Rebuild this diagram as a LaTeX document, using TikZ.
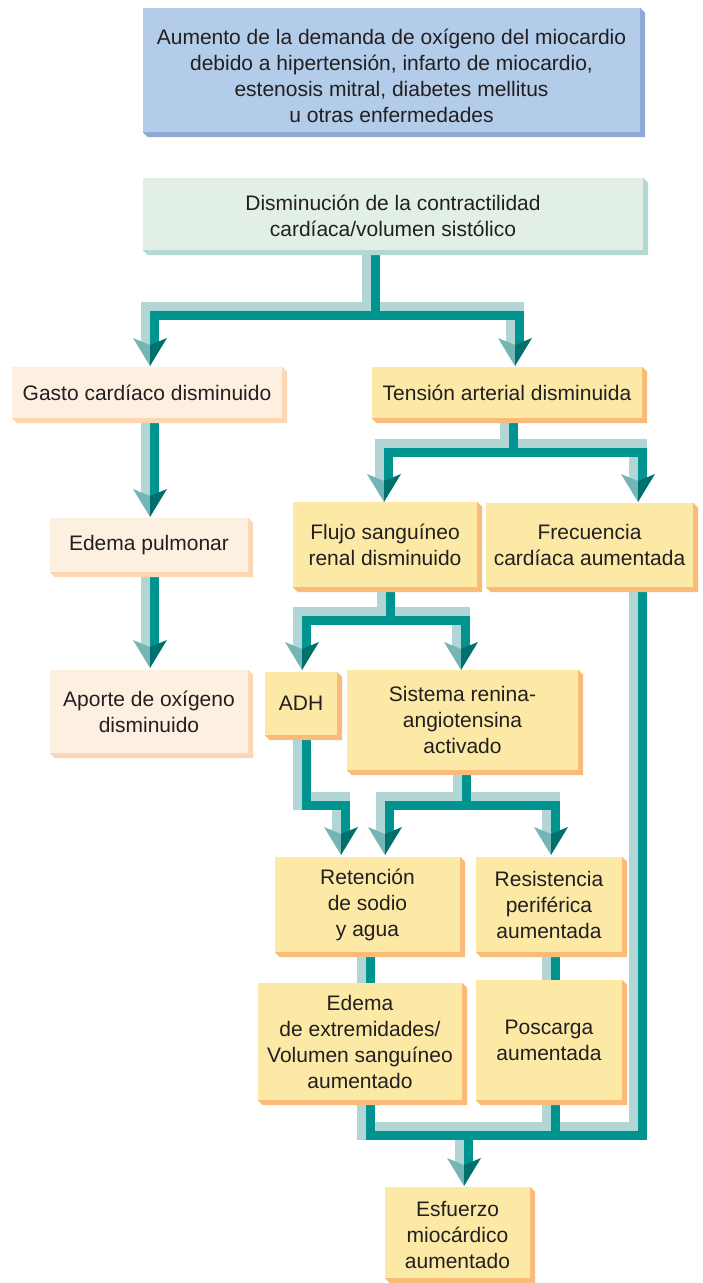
\documentclass[tikz,border=0pt]{standalone}
\usepackage{fontspec}
\setmainfont{Liberation Sans}
\usetikzlibrary{calc}
\definecolor{blueF}{HTML}{B3CCE9}
\definecolor{blueS}{HTML}{8FA9D4}
\definecolor{greenF}{HTML}{E2EFE4}
\definecolor{greenS}{HTML}{B6D8D5}
\definecolor{peachF}{HTML}{FDF0E0}
\definecolor{peachS}{HTML}{FDD6B4}
\definecolor{yellF}{HTML}{FCE9A6}
\definecolor{yellS}{HTML}{FBBB78}
\definecolor{pipeL}{HTML}{B2D6D6}
\definecolor{pipeD}{HTML}{009490}
\definecolor{arrL}{HTML}{74B6B5}
\definecolor{arrR}{HTML}{00706C}
\definecolor{txt}{HTML}{231F20}
\pgfdeclarelayer{bottom}
\pgfdeclarelayer{background}
\pgfsetlayers{bottom,background,main}
\newcommand\shd[2]{\fill[#2] (#1.north east) -- ([shift={(5,5)}]#1.north east) -- ([shift={(5,5)}]#1.south east) -- ([shift={(5,5)}]#1.south west) -- (#1.south west) -- (#1.south east) -- cycle;}
\newcommand\tipat[3]{\coordinate (#1) at (#2,#3); \coordinate (#1s) at (#2,#3-20);}
\newcommand\ahd[1]{\fill[arrL] (#1) -- ++(-17,-28) -- ++(17,7) -- cycle; \fill[arrR] (#1) -- ++(17,-28) -- ++(-17,7) -- cycle;}
\newcommand\allpipes[1]{%
 \draw[#1] (j1 |- green.center) -- (j1);
 \draw[#1] (tGastos) |- (j1) -| (tTenss);
 \draw[#1] (tGasto |- gasto.center) -- (tEdPs);
 \draw[#1] (tApo |- edemaP.center) -- (tApos);
 \draw[#1] (j2 |- tension.center) -- (j2);
 \draw[#1] (tFlujos) |- (j2) -| (tFrecs);
 \draw[#1] (j3 |- flujo.center) -- (j3);
 \draw[#1] (tADHs) |- (j3) -| (tSiss);
 \draw[#1] (tADH |- adh.center) |- (j6) -| (tRetAs);
 \draw[#1] (j4 |- sistema.center) -- (j4);
 \draw[#1] (tRetBs) |- (j4) -| (tRess);
 \draw[#1] (c1 |- retencion.center) -- (c1 |- edemaE.center);
 \draw[#1] (tRes |- resistencia.center) -- (tRes |- poscarga.center);
 \draw[#1] (c1 |- edemaE.center) |- (j5) -| (tFrec |- frecuencia.center);
 \draw[#1] (tRes |- poscarga.center) -- (tRes |- j5);
 \draw[#1] (j5) -- (tEsfs);
}
\begin{document}
\begin{tikzpicture}[x=1pt,y=-1pt,
  box/.style={rectangle, inner sep=0pt, align=center, text=txt, font=\fontsize{21}{26}\selectfont},
  pl/.style={line width=18pt, draw=pipeL, line join=miter, line cap=butt},
  pd/.style={line width=9pt, draw=pipeD, line join=miter, line cap=butt, transform canvas={shift={(4.5pt,-4.5pt)}}}]
\useasboundingbox (0,0) rectangle (702,1283);
\begin{pgfonlayer}{bottom}
\fill[white] (0,0) rectangle (702,1283);
\end{pgfonlayer}

% boxes
\node[box, fill=blueF, minimum width=497pt, minimum height=124pt] (top) at (391.5,70) {\rule{0pt}{28pt}Aumento de la demanda de oxígeno del miocardio\\debido a hipertensión, infarto de miocardio,\\estenosis mitral, diabetes mellitus\\u otras enfermedades};
\node[box, fill=greenF, minimum width=500pt, minimum height=72pt] (green) at (393,214) {\rule{0pt}{20pt}Disminución de la contractilidad\\cardíaca/volumen sistólico};
\node[box, fill=peachF, minimum width=270pt, minimum height=51pt] (gasto) at (147,392.5) {Gasto cardíaco disminuido};
\node[box, fill=yellF, minimum width=270pt, minimum height=51pt] (tension) at (507,392.5) {Tensión arterial disminuida};
\node[box, fill=peachF, minimum width=198pt, minimum height=54pt] (edemaP) at (149,545) {Edema pulmonar};
\node[box, fill=peachF, minimum width=198pt, minimum height=83pt] (aporte) at (149,711.5) {Aporte de oxígeno\\disminuido};
\node[box, fill=yellF, minimum width=184pt, minimum height=85pt] (flujo) at (385,544.5) {Flujo sanguíneo\\renal disminuido};
\node[box, fill=yellF, minimum width=207pt, minimum height=84pt] (frecuencia) at (589.5,545) {Frecuencia\\cardíaca aumentada};
\node[box, fill=yellF, minimum width=72pt, minimum height=63pt] (adh) at (301,703.5) {ADH};
\node[box, fill=yellF, minimum width=231pt, minimum height=100pt] (sistema) at (462.5,720) {Sistema renina-\\angiotensina\\activado};
\node[box, fill=yellF, minimum width=185pt, minimum height=95pt] (retencion) at (367.5,904.5) {Retención\\de sodio\\y agua};
\node[box, fill=yellF, minimum width=146pt, minimum height=95pt] (resistencia) at (549,904.5) {Resistencia\\periférica\\aumentada};
\node[box, fill=yellF, minimum width=204pt, minimum height=117pt] (edemaE) at (360,1041.5) {Edema\\de extremidades/\\Volumen sanguíneo\\aumentado};
\node[box, fill=yellF, minimum width=146pt, minimum height=120pt] (poscarga) at (549,1040) {Poscarga\\aumentada};
\node[box, fill=yellF, minimum width=145pt, minimum height=91pt] (esfuerzo) at (457.5,1232.5) {\rule{0pt}{20pt}Esfuerzo\\miocárdico\\aumentado};

\shd{top}{blueS}
\shd{green}{greenS}
\shd{gasto}{peachS}
\shd{edemaP}{peachS}
\shd{aporte}{peachS}
\foreach \n in {tension,flujo,frecuencia,adh,sistema,retencion,resistencia,edemaE,poscarga,esfuerzo} {\shd{\n}{yellS}}

% routing coordinates
\coordinate (j1) at (371,311);
\coordinate (j2) at (509,448);
\coordinate (j3) at (386,616);
\coordinate (j4) at (461.5,801);
\coordinate (j6) at (341,801);
\coordinate (j5) at (464,1131);
\coordinate (c1) at (366,0);
\tipat{tGasto}{150}{366}
\tipat{tTens}{515}{366}
\tipat{tEdP}{150}{517}
\tipat{tApo}{150}{668}
\tipat{tFlujo}{384}{502}
\tipat{tFrec}{638}{502}
\tipat{tADH}{302}{670}
\tipat{tSis}{461}{670}
\tipat{tRetA}{341}{855}
\tipat{tRetB}{385}{855}
\tipat{tRes}{551}{855}
\tipat{tEsf}{464}{1186}

\begin{pgfonlayer}{background}
\allpipes{pl}
\allpipes{pd}
\end{pgfonlayer}

\foreach \t in {tGasto,tTens,tEdP,tApo,tFlujo,tFrec,tADH,tSis,tRetA,tRetB,tRes,tEsf} {\ahd{\t}}
\end{tikzpicture}
\end{document}
